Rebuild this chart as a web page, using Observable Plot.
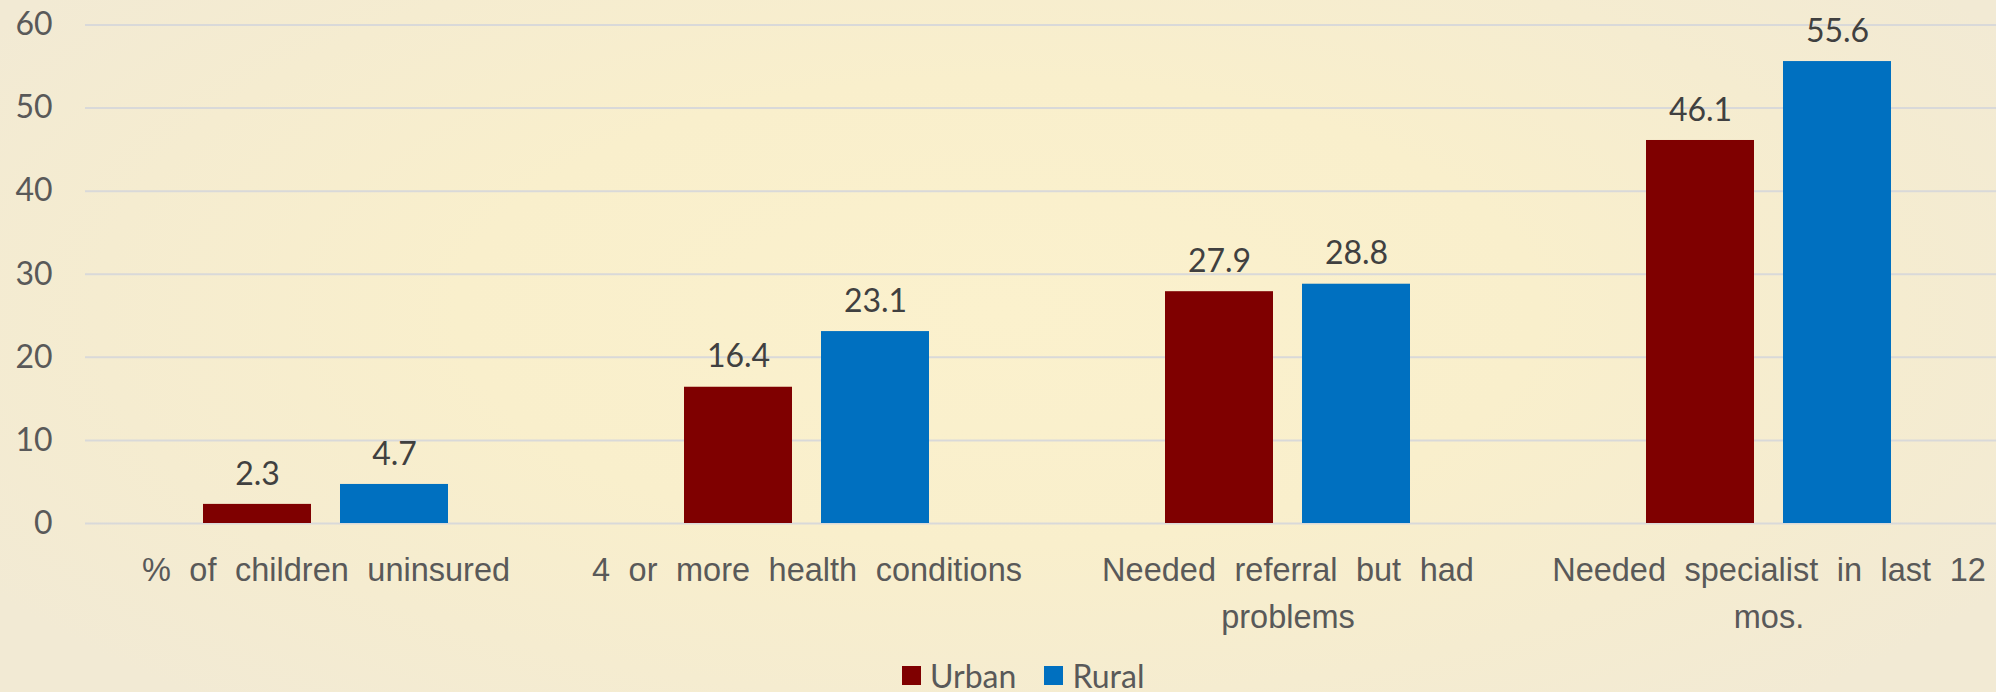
<!DOCTYPE html>
<html><head><meta charset="utf-8">
<script src="https://cdn.jsdelivr.net/npm/d3@7"></script>
<script src="https://cdn.jsdelivr.net/npm/@observablehq/plot@0.6"></script>
<style>
html,body{margin:0;padding:0;overflow:hidden;width:1996px;height:692px;}
body{position:relative;background:radial-gradient(ellipse 60% 75% at 50% 45%, #fbf1cd 0%, #f9efcc 45%, #f5ecd0 75%, #f2ead4 100%);}
#chart svg{display:block;overflow:visible;background:transparent;max-width:none;}
[aria-label="fx-axis tick label"]{word-spacing:9.5px;}
#legend{position:absolute;left:902px;top:656px;display:flex;align-items:center;font-family:Lato,sans-serif;font-size:32px;color:#595959;}
#legend .sw{width:19px;height:19px;display:inline-block;margin-right:9px;}
#legend .item{display:flex;align-items:center;margin-right:28px;}
</style></head><body>
<div id="chart"></div>
<div id="legend"></div>
<script>
const categories = ["% of children uninsured", "4 or more health conditions", "Needed referral but had problems", "Needed specialist in last 12 mos."];
const categoryLabels = ["% of children uninsured", "4 or more health conditions", "Needed referral but had\nproblems", "Needed specialist in last 12\nmos."];
const series = ["Urban", "Rural"];
const urban = [2.3, 16.4, 27.9, 46.1];
const rural = [4.7, 23.1, 28.8, 55.6];
const yTicks = [0, 10, 20, 30, 40, 50, 60];
const colors = ["#7f0000", "#0070c0"];

const data = categories.flatMap((c, i) => [
  {category: c, series: series[0], value: urban[i]},
  {category: c, series: series[1], value: rural[i]}
]);

const plot = Plot.plot({
  width: 1996, height: 645,
  marginTop: 24.5, marginBottom: 122, marginLeft: 85, marginRight: 0,
  style: {background: "transparent", fontFamily: "Lato, sans-serif", overflow: "visible"},
  fx: {domain: categories, range: [85, 2009], padding: 0, label: null},
  x: {domain: series, paddingInner: 0.213, paddingOuter: 0.857, axis: null},
  y: {domain: [0, 60], label: null},
  color: {domain: series, range: colors},
  marks: [
    Plot.ruleY(yTicks, {stroke: "#d9d9d9", strokeWidth: 2}),
    Plot.axisY(yTicks, {tickSize: 0, tickPadding: 33, fontSize: 32, fill: "#595959", label: null, fontFamily: "Lato, sans-serif"}),
    Plot.barY(data, {fx: "category", x: "series", y: "value", fill: "series"}),
    Plot.text(data, {fx: "category", x: "series", y: "value", text: d => d.value.toFixed(1), dy: -30, fontSize: 32, fill: "#404040", fontFamily: "Lato, sans-serif"}),
    Plot.axisFx({anchor: "bottom", tickSize: 0, tickPadding: 24, fontSize: 32.5, lineHeight: 1.45, label: null, fill: "#595959", fontFamily: "Liberation Sans Narrow, sans-serif", tickFormat: d => categoryLabels[categories.indexOf(d)]})
  ]
});
document.getElementById("chart").appendChild(plot);

const legend = document.getElementById("legend");
series.forEach((s, i) => {
  const item = document.createElement("div");
  item.className = "item";
  const sw = document.createElement("span");
  sw.className = "sw";
  sw.style.background = colors[i];
  item.appendChild(sw);
  item.appendChild(document.createTextNode(s));
  legend.appendChild(item);
});
</script>
</body></html>
